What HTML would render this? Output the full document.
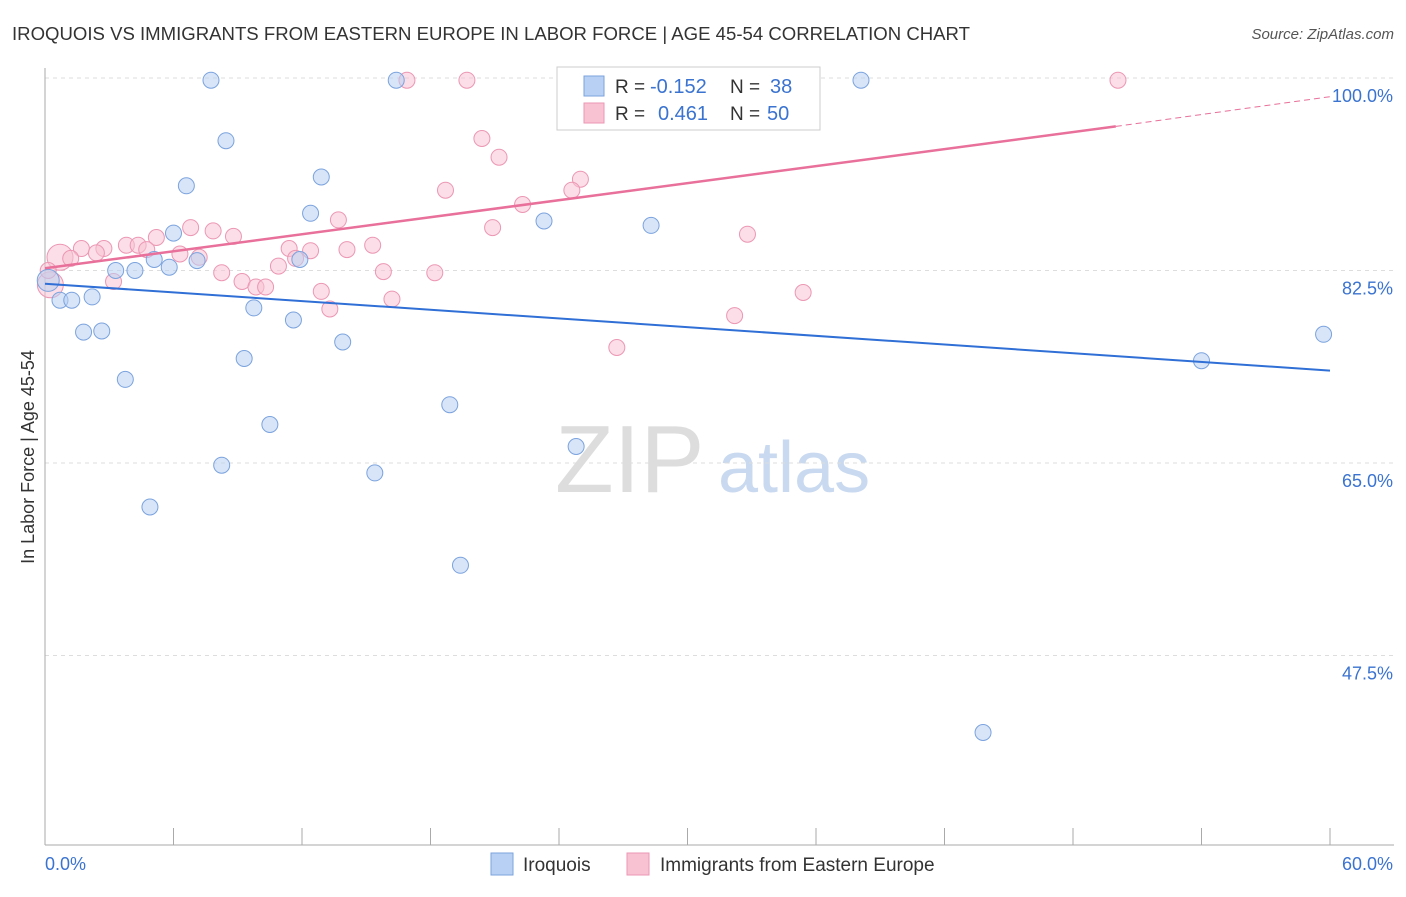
<!DOCTYPE html>
<html><head><meta charset="utf-8"><style>
body{margin:0;background:#fff;font-family:"Liberation Sans",sans-serif;}
svg text{font-family:"Liberation Sans",sans-serif;}
</style></head><body>
<svg id="chart" width="1406" height="892">
<text x="12" y="40" font-size="18" fill="#333" textLength="958" lengthAdjust="spacingAndGlyphs">IROQUOIS VS IMMIGRANTS FROM EASTERN EUROPE IN LABOR FORCE | AGE 45-54 CORRELATION CHART</text>
<text x="1394" y="39" font-size="15" fill="#555" text-anchor="end" font-style="italic">Source: ZipAtlas.com</text>
<text x="34" y="457" font-size="18" fill="#333" text-anchor="middle" transform="rotate(-90 34 457)">In Labor Force | Age 45-54</text>
<text x="555" y="492" font-size="96" fill="#ddd" font-family="Liberation Serif">ZIP</text>
<text x="718" y="492" font-size="72" fill="#c9d9f0">atlas</text>
<g id="grid"></g><g id="pts"></g><g id="trends"></g>
<g>
<rect x="557" y="67" width="263" height="63" fill="#fff" stroke="#ccc"/>
<rect x="584" y="76" width="20" height="20" fill="#b8d0f3" stroke="#7ba3de"/>
<rect x="584" y="103" width="20" height="20" fill="#f8c2d3" stroke="#ec97b3"/>
<text x="615" y="93" font-size="19" fill="#333">R =</text>
<text x="650" y="93" font-size="20" fill="#3a73d0">-0.152</text>
<text x="730" y="93" font-size="19" fill="#333">N =</text>
<text x="770" y="93" font-size="20" fill="#3a73d0">38</text>
<text x="615" y="120" font-size="19" fill="#333">R =</text>
<text x="658" y="120" font-size="20" fill="#3a73d0">0.461</text>
<text x="730" y="120" font-size="19" fill="#333">N =</text>
<text x="767" y="120" font-size="20" fill="#3a73d0">50</text>
</g>
<g>
<rect x="491" y="853" width="22" height="22" fill="#b8d0f3" stroke="#7ba3de"/>
<text x="523" y="871" font-size="19" fill="#333">Iroquois</text>
<rect x="627" y="853" width="22" height="22" fill="#f8c2d3" stroke="#ec97b3"/>
<text x="660" y="871" font-size="19" fill="#333">Immigrants from Eastern Europe</text>
</g>
<text x="45" y="870" font-size="18" fill="#3a73d0">0.0%</text>
<text x="1393" y="870" font-size="18" fill="#3a73d0" text-anchor="end">60.0%</text>
</svg>
<script>
const yTicks=[100,82.5,65,47.5];
const yTickLabels=["100.0%","82.5%","65.0%","47.5%"];
const blueX=[7.75,16.4,38.1,8.45,6.6,12.9,12.4,23.3,28.3,6.0,5.1,5.8,7.1,3.3,4.2,11.9,0.15,0.7,2.2,1.25,9.75,11.6,1.8,2.65,13.9,9.3,3.75,18.9,10.5,24.8,8.25,15.4,4.9,19.4,54.0,59.7,43.8,26.3];
const blueY=[99.8,99.8,99.8,94.3,90.2,91.0,87.7,87.0,86.6,85.9,83.5,82.8,83.4,82.5,82.5,83.5,81.6,79.8,80.1,79.8,79.1,78.0,76.9,77.0,76.0,74.5,72.6,70.3,68.5,66.5,64.8,64.1,61.0,55.7,74.3,76.7,40.5,98.0];
const pinkX=[16.9,19.7,29.5,32.1,50.1,20.4,21.2,18.7,25.0,24.6,22.3,13.7,20.9,32.8,6.8,7.85,8.8,5.2,3.8,4.35,1.7,2.75,2.4,0.7,1.2,4.75,6.3,7.2,11.4,12.4,14.1,15.3,11.7,10.9,8.25,9.2,9.85,10.3,15.8,18.2,3.2,12.9,16.2,13.3,35.4,32.2,26.7,0.25,0.15];
const pinkY=[99.8,99.8,99.8,99.8,99.8,94.5,92.8,89.8,90.8,89.8,88.5,87.1,86.4,85.8,86.4,86.1,85.6,85.5,84.8,84.8,84.5,84.5,84.1,83.7,83.6,84.4,84.0,83.7,84.5,84.3,84.4,84.8,83.6,82.9,82.3,81.5,81.0,81.0,82.4,82.3,81.5,80.6,79.9,79.0,80.5,78.4,75.5,81.2,82.5];
const blueTrend=[[0,81.3],[60,73.4]];
const pinkTrend=[[0,82.7],[50,95.6],[60,98.3]];
const X=v=>45+v/60*1285, Y=v=>78+(100-v)*11;
const ns="http://www.w3.org/2000/svg";
function mk(t,a,p){const e=document.createElementNS(ns,t);for(const k in a)e.setAttribute(k,a[k]);p.appendChild(e);return e;}
const g=document.getElementById('grid');
yTicks.forEach((t,i)=>{
 const l=mk('line',{x1:45,x2:1394,y1:Y(t),y2:Y(t),stroke:'#ddd','stroke-dasharray':'4,4'},g);
 
 
 const tx=mk('text',{x:1393,y:Y(t)+24,'font-size':18,fill:'#3a73d0','text-anchor':'end'},g);
 tx.textContent=yTickLabels[i];
 
 
});
const ax=mk('line',{x1:45,x2:45,y1:68,y2:845,stroke:'#aaa'},g);


const bx=mk('line',{x1:45,x2:1394,y1:845,y2:845,stroke:'#aaa'},g);


for(let i=0;i<=10;i++){const t=mk('line',{x1:X(i*6),x2:X(i*6),y1:828,y2:845,stroke:'#aaa'},g);
 
 }
const p=document.getElementById('pts');
pinkX.forEach((x,i)=>{const big=(i==23||i==47);const c=mk('circle',{cx:X(x),cy:Y(pinkY[i]),r:big?13:8,fill:'rgba(248,194,211,0.55)',stroke:'#ec97b3','stroke-width':1},p);
 
 });
blueX.forEach((x,i)=>{const c=mk('circle',{cx:X(x),cy:Y(blueY[i]),r:i==16?11:8,fill:'rgba(184,208,243,0.55)',stroke:'#7ba3de','stroke-width':1},p);
 
 });
const tg=document.getElementById('trends');
const bl=mk('line',{x1:X(blueTrend[0][0]),y1:Y(blueTrend[0][1]),x2:X(blueTrend[1][0]),y2:Y(blueTrend[1][1]),stroke:'#2f6fd6','stroke-width':2},tg);


const pl=mk('line',{x1:X(pinkTrend[0][0]),y1:Y(pinkTrend[0][1]),x2:X(pinkTrend[1][0]),y2:Y(pinkTrend[1][1]),stroke:'#e8709a','stroke-width':2.5},tg);


const pd=mk('line',{x1:X(pinkTrend[1][0]),y1:Y(pinkTrend[1][1]),x2:X(pinkTrend[2][0]),y2:Y(pinkTrend[2][1]),stroke:'#e8709a','stroke-width':1,'stroke-dasharray':'6,4'},tg);


</script>
</body></html>
